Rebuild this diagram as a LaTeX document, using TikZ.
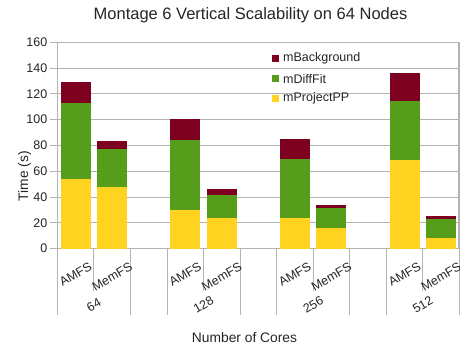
\documentclass[tikz,border=0pt]{standalone}
\usepackage{fontspec}
\setmainfont{Liberation Sans}
\definecolor{cBack}{HTML}{7E0021}
\definecolor{cDiff}{HTML}{579D1C}
\definecolor{cProj}{HTML}{FFD320}
\definecolor{gridc}{HTML}{B3B3B3}
\begin{document}
\begin{tikzpicture}[x=1pt,y=1pt,
  lbl/.style={font=\fontsize{12.5}{14}\selectfont, inner sep=0pt, text=black!85},
  ttl/.style={font=\fontsize{13.8}{16}\selectfont, inner sep=0pt, text=black!85},
  gline/.style={draw=gridc, line width=0.9pt},
  legsq/.style={minimum size=7pt, inner sep=0pt},
]
\useasboundingbox[fill=white] (0,0) rectangle (460,352);

% title
\node[font=\fontsize{16.5}{19}\selectfont, text=black!85, inner sep=0pt] (title) at (250.5,337) {Montage 6 Vertical Scalability on 64 Nodes};

% value axis: data units in y
\begin{scope}[shift={(0,103.3)}, y=1.29pt]
  \foreach \v in {0,20,...,160} {
    \draw[gline] (49.5,\v) -- (459,\v);
    \node[lbl, anchor=east] (ytick\v) at (47.5,\v) {\v};
  }
  % category separators below the axis
  \foreach \k in {0,2,3,5,6,8,9,11}
    \draw[gline] ({57.3+36.55*\k},0) -- ({57.3+36.55*\k},-51.4);
  \foreach \k in {1,4,7,10}
    \draw[gline] ({57.3+36.55*\k},0) -- ({57.3+36.55*\k},-32.8);
  \draw[gline] (57.3,0) -- (57.3,160);
  \draw[gridc, line width=1.4pt] (57.3,160) -- (459,160) -- (459,0);

  % stacked bars: slot / mProjectPP / +mDiffFit / +mBackground
  \foreach \s/\a/\b/\c in {0/54/113/129, 1/48/77/83.5, 3/30/84/100.5, 4/24/41.5/46,
                           6/24/69.5/85, 7/16/31.5/34, 9/68.6/114.5/136, 10/8.3/23/25} {
    \pgfmathsetmacro{\xc}{57.3+36.55*(\s+0.5)}
    \fill[cProj] (\xc-15,0) rectangle (\xc+15,\a);
    \fill[cDiff] (\xc-15,\a) rectangle (\xc+15,\b);
    \fill[cBack] (\xc-15,\b) rectangle (\xc+15,\c);
  }
\end{scope}

% category labels
\foreach \s/\t/\yy [count=\i] in {0/AMFS/78, 1/MemFS/75, 3/AMFS/78, 4/MemFS/75,
                                  6/AMFS/78, 7/MemFS/75, 9/AMFS/78, 10/MemFS/75}
  \node[lbl, rotate=30] (cat\i) at ({57.3+36.55*(\s+0.5)},\yy) {\t};
\foreach \k/\t in {1/64, 4/128, 7/256, 10/512}
  \node[lbl, rotate=30] (grp\t) at ({57.3+36.55*\k},47) {\t};

% axis titles
\node[ttl, rotate=90] (ytitle) at (24.5,176) {Time (s)};
\node[ttl] (xtitle) at (244.5,14) {Number of Cores};

% legend
\node[legsq, fill=cBack] (lgb) at (275.3,293.3) {};
\node[legsq, fill=cDiff] (lgd) at (275.3,273.3) {};
\node[legsq, fill=cProj] (lgp) at (275.3,253.3) {};
\node[lbl, anchor=west] (lgbt) at (283,293.3) {mBackground};
\node[lbl, anchor=west] (lgdt) at (283,273.3) {mDiffFit};
\node[lbl, anchor=west] (lgpt) at (283,253.3) {mProjectPP};
\end{tikzpicture}
\end{document}
